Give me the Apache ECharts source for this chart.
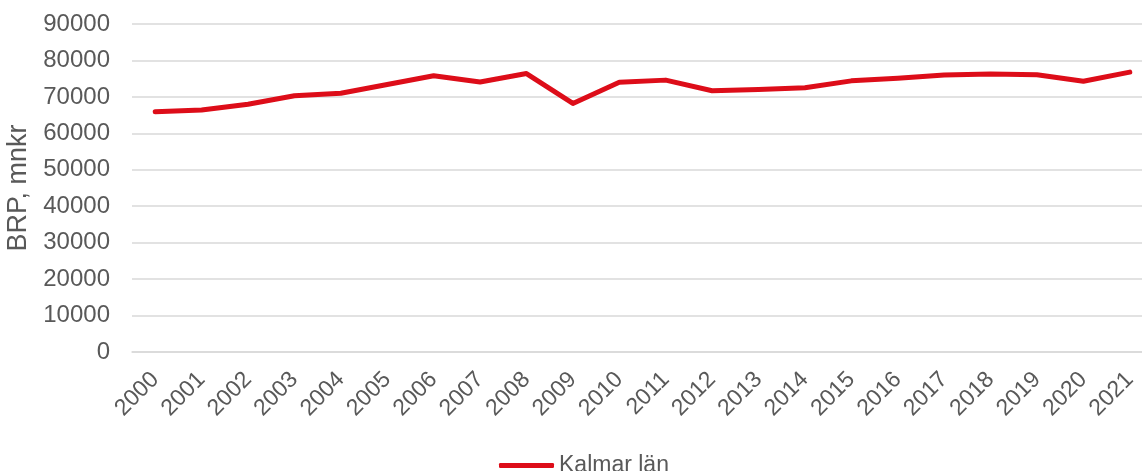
<!DOCTYPE html>
<html>
<head>
<meta charset="utf-8">
<script src="https://cdn.jsdelivr.net/npm/echarts@6/dist/echarts.min.js"></script>
<style>
html,body{margin:0;padding:0;background:#fff;}
#chart{width:1142px;height:471px;}
</style>
</head>
<body>
<div id="chart"></div>
<script>
const years = ['2000','2001','2002','2003','2004','2005','2006','2007','2008','2009','2010','2011','2012','2013','2014','2015','2016','2017','2018','2019','2020','2021'];
const kalmar = [65900,66400,68000,70300,71000,73400,75800,74100,76400,68200,74000,74600,71700,72000,72500,74400,75100,76000,76300,76100,74300,76800];
const seriesName = 'Kalmar län';
const yAxisTitle = 'BRP, mnkr';

const font = '"Liberation Sans", Arial, sans-serif';
const chart = echarts.init(document.getElementById('chart'));
chart.setOption({
  animation: false,
  backgroundColor: '#fff',
  grid: {left: 132, top: 24, width: 1021, height: 328, containLabel: false, outerBoundsMode: 'none'},
  legend: {
    data: [seriesName],
    left: 494, top: 449,
    icon: 'roundRect',
    itemWidth: 55, itemHeight: 5,
    textStyle: {color: '#595959', fontSize: 23, fontFamily: font}
  },
  xAxis: {
    type: 'category',
    data: years,
    boundaryGap: true,
    axisLine: {lineStyle: {color: '#d9d9d9', width: 1.5}},
    axisTick: {show: false},
    axisLabel: {rotate: 45, color: '#595959', fontSize: 23, fontFamily: font, margin: 24, interval: 0}
  },
  yAxis: {
    type: 'value',
    min: 0, max: 90000, interval: 10000,
    name: yAxisTitle,
    nameLocation: 'middle',
    nameGap: 91,
    nameTextStyle: {color: '#595959', fontSize: 27, fontFamily: font},
    axisLine: {show: false},
    axisTick: {show: false},
    axisLabel: {color: '#595959', fontSize: 24, fontFamily: font, margin: 22, formatter: v => String(v)},
    splitLine: {lineStyle: {color: '#d9d9d9', width: 1.5}}
  },
  series: [{
    name: seriesName,
    type: 'line',
    data: kalmar,
    symbol: 'none',
    lineStyle: {color: '#dd0d19', width: 5, cap: 'round', join: 'round'},
    itemStyle: {color: '#dd0d19'}
  }]
});
</script>
</body>
</html>
